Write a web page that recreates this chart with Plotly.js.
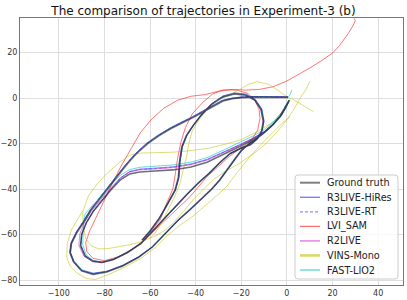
<!DOCTYPE html>
<html>
<head>
<meta charset="utf-8">
<script src="https://cdn.plot.ly/plotly-3.0.1.min.js"></script>
<style>html,body{margin:0;padding:0;background:#fff;}#chart{width:407px;height:300px;}</style>
</head>
<body>
<div id="chart"></div>
<script>
// ---- Data ----
var seriesNames = ["Ground truth","R3LIVE-HiRes","R3LIVE-RT","LVI_SAM","R2LIVE","VINS-Mono","FAST-LIO2"];
var xTicks = [-100,-80,-60,-40,-20,0,20,40];
var yTicks = [-80,-60,-40,-20,0,20];

// Ground truth
var gtLap1X = [0.5,-5,-10,-15,-20,-24,-28,-32,-36,-41,-46,-51,-56,-61,-66,-70,-74,-78,-82,-86,-89,-92,-94.5,-95,-93.5,-90,-85,-79,-72,-65,-59,-53,-47.5,-42.5,-37,-33,-29.5,-26,-23,-20,-16,-11,-6.5,-3,-0.5,1];
var gtLap1Y = [0.3,0.4,0.5,0.4,0.2,-0.3,-1.3,-3.5,-6,-8.5,-11,-13.5,-16.5,-20,-24.5,-29,-34,-39,-44,-49.5,-54.5,-59,-64,-68,-72,-76,-77.5,-76.5,-73.8,-70,-65.5,-59,-53.5,-49,-44,-40,-36,-31,-27,-23,-19.5,-16,-12,-8,-4,-1];
var gtLap2X = [0,-2.5,-6,-10,-15,-20.5,-27.5,-35,-42,-50,-58,-64.5,-69,-73,-77,-81,-85,-88,-90,-90.5,-88.5,-85,-81,-76,-70,-64,-58.5,-54,-49,-44,-39,-34,-29.5,-25,-20,-16,-13,-11,-10.3,-11.3,-14,-18,-23,-28,-33,-37.5,-41,-44,-46,-47,-47.5,-49,-52,-56,-60,-63.5];
var gtLap2Y = [-3,-7.6,-11.6,-15.2,-18.3,-21.2,-24.5,-28.2,-30.3,-31.6,-32.1,-32.5,-33.4,-36,-40.2,-45,-50,-55,-60,-65,-69.5,-71.8,-72.3,-71,-68,-64,-58,-53.5,-48,-42.5,-37.5,-33,-28.5,-24.5,-22,-20.5,-18,-14.5,-10.2,-5,-1,1.2,1.8,0.5,-2.8,-7.5,-12,-16.5,-21.5,-28,-35,-40.5,-46,-53,-58.5,-62.5];

// R3LIVE-HiRes
var hrLap1X = [0.5,-5,-10,-15,-20,-24,-28.5,-32.5,-36.5,-41.5,-46.5,-51.5,-56.5,-61.5,-66.3,-70.3,-74.3,-78.3,-82.3,-86.3,-89.3,-92.3,-94.6,-95,-93.3,-89.8,-84.8,-78.8,-71.8,-64.8,-58.8,-52.8,-47.3,-42.3,-36.8,-32.8,-29.3,-25.8,-22.8,-19.8,-15.8,-10.8,-6.3,-2.8,-0.3,1];
var hrLap1Y = [0.6,0.7,0.8,0.7,0.5,0,-1,-3.2,-5.7,-8.2,-10.7,-13.3,-16.3,-19.8,-24.3,-28.8,-33.8,-38.8,-43.8,-49.3,-54.3,-58.8,-63.8,-67.8,-71.8,-75.6,-77,-76.1,-73.5,-69.8,-65.4,-59,-53.6,-49.2,-44.2,-40.2,-36.2,-31.2,-27.2,-23.2,-19.7,-16.2,-12.2,-8.2,-4.2,-1.1];
var hrLap2X = [0.2,-2.3,-5.8,-9.8,-14.8,-20.3,-27.3,-34.8,-41.8,-49.8,-57.8,-64.3,-68.8,-72.8,-76.8,-80.8,-84.8,-87.8,-89.8,-90.3,-88.3,-84.8,-80.8,-75.8,-69.8,-63.8,-58.3,-53.8,-48.8,-43.8,-38.8,-33.8,-29.3,-24.8,-19.8,-15.8,-12.8,-10.8,-10,-11,-13.8,-17.8,-22.8,-27.8,-32.8,-37.3,-40.8,-43.8,-45.8,-46.8,-47.3,-48.8,-51.8,-55.8,-59.8,-63.3];
var hrLap2Y = [-2.8,-7.2,-11.2,-14.7,-17.6,-20.3,-23.4,-26.9,-28.9,-30.2,-30.8,-31.2,-32.2,-35,-39.6,-44.6,-49.6,-54.6,-59.6,-64.7,-69.3,-71.6,-72.1,-70.8,-67.8,-63.8,-57.9,-53.4,-47.9,-42.4,-37.4,-32.9,-28.4,-24.4,-21.9,-20.3,-17.8,-14.3,-10,-4.7,-0.6,1.7,2.3,1,-2.4,-7.2,-11.8,-16.3,-21.3,-27.8,-34.8,-40.4,-45.9,-52.9,-58.4,-62.4];

// R3LIVE-RT
var rtLap1X = [0.5,-5,-10,-15,-20,-24.1,-28.3,-32.3,-36.3,-41.3,-46.3,-51.3,-56.3,-61.3,-66.2,-70.2,-74.2,-78.2,-82.2,-86.2,-89.2,-92.2,-94.6,-95.1,-93.5,-89.9,-84.9,-78.9,-71.9,-64.9,-58.9,-52.9,-47.4,-42.4,-36.9,-32.9,-29.4,-25.9,-22.9,-19.9,-15.9,-10.9,-6.4,-2.9,-0.4,1];
var rtLap1Y = [0.5,0.6,0.7,0.6,0.4,-0.1,-1.1,-3.3,-5.8,-8.3,-10.8,-13.4,-16.4,-19.9,-24.4,-28.9,-33.9,-38.9,-43.9,-49.4,-54.4,-58.9,-63.9,-67.9,-71.9,-75.8,-77.3,-76.3,-73.6,-69.9,-65.4,-59,-53.5,-49.1,-44.1,-40.1,-36.1,-31.1,-27.1,-23.1,-19.6,-16.1,-12.1,-8.1,-4.1,-1];
var rtLap2X = [0.1,-2.4,-5.9,-9.9,-14.9,-20.4,-27.4,-34.9,-41.9,-49.9,-57.9,-64.4,-68.9,-72.9,-76.9,-80.9,-84.9,-87.9,-89.9,-90.4,-88.4,-84.9,-80.9,-75.9,-69.9,-63.9,-58.4,-53.9,-48.9,-43.9,-38.9,-33.9,-29.4,-24.9,-19.9,-15.9,-12.9,-10.9,-10.1,-11.1,-13.9,-17.9,-22.9,-27.9,-32.9,-37.4,-40.9,-43.9,-45.9,-46.9,-47.4,-48.9,-51.9,-55.9,-59.9,-63.4];
var rtLap2Y = [-2.9,-7.3,-11.3,-14.8,-17.7,-20.5,-23.6,-27.1,-29.1,-30.4,-31,-31.4,-32.4,-35.2,-39.8,-44.8,-49.8,-54.8,-59.8,-64.8,-69.4,-71.7,-72.2,-70.9,-67.9,-63.9,-57.9,-53.4,-47.9,-42.4,-37.4,-32.9,-28.4,-24.4,-21.9,-20.4,-17.9,-14.4,-10.1,-4.8,-0.7,1.6,2.2,0.9,-2.5,-7.3,-11.9,-16.4,-21.4,-27.9,-34.9,-40.4,-45.9,-52.9,-58.4,-62.4];

// LVI_SAM
var lviX = [-60,-55.5,-52.6,-50,-49,-48,-46.5,-44.5,-41.5,-37,-32.5,-28,-22,-17,-14,-12.2,-11.8,-12.8,-15.5,-20,-25,-30,-35,-42.4,-49.7,-56,-62,-68,-74,-80,-85,-87.7,-88.2,-86.5,-83.5,-80.5,-77,-73,-68.5,-64.3,-59.5,-54,-48,-42,-36,-30,-24,-18,-12,-6,0,5,10,15,20,23,25,27,28.8,30,29.5];
var lviY = [-59,-53.5,-46,-40,-34,-27,-19.5,-13,-7,-2,1.8,3.6,3.5,2,-1,-5,-9,-14,-18.5,-22,-25.5,-30,-34.5,-43.3,-50.4,-56.5,-62,-66.5,-69.8,-71.5,-70.5,-67.5,-63.5,-58.5,-52,-45.5,-38.5,-30.5,-22.5,-15.3,-9.5,-4.5,-1,0.8,1.5,3,3.8,3.5,3.8,5,7.5,10.3,13.2,16.3,19.8,23,25.5,28.5,31.5,34,35];

// R2LIVE
var r2Lap1X = [0.5,-5,-10,-15,-20,-24.2,-28.4,-32.4,-36.4,-41.4,-46.4,-51.4,-56.4,-61.4,-66.4,-70.4,-74.4,-78.4,-82.4,-86.4,-89.4,-92.4,-94.8,-95.3,-93.7,-90.2,-85.2,-79.2,-72.2,-65.2,-59.2,-53.2,-47.7,-42.7,-37.2,-33.2,-29.7,-26.2,-23.2,-20.2,-16.2,-11.2,-6.7,-3.2,-0.7,0.8];
var r2Lap1Y = [0.5,0.6,0.7,0.6,0.4,-0.1,-1.1,-3.3,-5.8,-8.3,-10.8,-13.4,-16.4,-19.9,-24.4,-28.9,-33.9,-38.9,-43.9,-49.4,-54.4,-58.9,-63.9,-67.9,-71.9,-75.8,-77.2,-76.3,-73.6,-69.9,-65.5,-59.1,-53.7,-49.3,-44.3,-40.3,-36.3,-31.3,-27.3,-23.3,-19.8,-16.3,-12.3,-8.3,-4.3,-1.2];
var r2Lap2X = [0,-2.5,-6,-10,-15,-20.5,-27.5,-35,-42,-50,-58,-64.5,-69.2,-73.3,-77.5,-81.7,-85.8,-88.8,-90.8,-91.2,-89,-85.3,-81.2,-76.2,-70.2,-64.2,-58.7,-54.2,-49.2,-44.2,-39.2,-34.2,-29.7,-25.2,-20.2,-16.2,-13.2,-11.2,-10.5,-11.5,-14.2,-18.2,-23.2,-28.2,-33.2,-37.7,-41.2,-44.2,-46.2,-47.2,-47.7,-49.2,-52.2,-56.2,-60.2,-63.7];
var r2Lap2Y = [-3,-7.4,-11.4,-14.9,-17.8,-20.6,-23.8,-27.3,-29.3,-30.6,-31.2,-31.6,-32.6,-35.3,-39.8,-44.8,-49.8,-54.8,-59.8,-64.8,-69.5,-71.9,-72.4,-71.1,-68.1,-64.1,-58.1,-53.6,-48.1,-42.6,-37.6,-33.1,-28.6,-24.6,-22.1,-20.5,-18,-14.5,-10.2,-4.9,-0.8,1.5,2.1,0.8,-2.6,-7.4,-11.9,-16.4,-21.4,-27.9,-34.9,-40.5,-46,-53,-58.5,-62.5];

// VINS-Mono (three pieces, separated by gaps)
var vinsX = [11.7,7,2.9,0,-4,-8,-13,-17,-21,-26,-31,-35,-38.5,-41.5,-43,-44,-45.5,-47,-49.5,-52,-55,-57.5,-60.5,-64.3,-69,-74.5,-78.5,-82.6,-86,-88.3,-89.3,-89.5,-87,-83,-78.5,-73,-68.5,-64,-58,-50,-43,-35,-27,-20,-13,-6,-2,0,1.5,
  null,
  -89.5,-92,-94.5,-96.3,-96.5,-95,-92,-88,-84,-78,-71,-64,-57.5,-52.5,-47,-41,-35,-30,-26.3,-22,-16,-11,-6,-2,1.5,
  null,
  -60.5,-57,-53,-49.7,-45,-41,-36.5,-32.2,-26.5,-20.5,-14,-8.8,-4,0,3,5.8,8.5,10.2];
var vinsY = [-6,-3.3,-0.7,0.5,3.5,6,7.2,6,3.6,1,-1,-5,-9.5,-14.5,-20,-26,-32,-38,-44,-49,-55,-59,-61.8,-63.3,-64.5,-65.5,-66.2,-66.3,-64.8,-61.5,-56,-50,-43,-37.5,-32.8,-28,-25,-24.2,-24,-23.8,-23.2,-22.2,-20.3,-18.3,-14.8,-10.5,-6,-3,-1,
  null,
  -49.5,-53.5,-58,-64,-70,-74,-77,-79.3,-79.8,-77.5,-74.3,-70.5,-65.5,-60.5,-56,-51.8,-46.8,-42.3,-38.8,-33,-25.6,-20,-15,-11,-8,
  null,
  -61.8,-60.3,-57.8,-54.8,-49.5,-44.6,-40,-35.8,-32,-28.5,-24,-19.7,-14.5,-9.6,-5,0,4,7.5];

// FAST-LIO2
var flLap1X = [2.2,1.4,0.5,-5,-10,-15,-20,-24,-28.2,-32.2,-36.2,-41.2,-46.2,-51.2,-56.2,-61.2,-66.2,-70.2,-74.2,-78.2,-82.2,-86,-89,-92,-94.3,-94.8,-93.3,-89.8,-84.8,-78.8,-71.8,-64.8,-58.8,-52.8,-47.3,-42.3,-36.8,-32.8,-29.3,-25.8,-22.8,-19.8,-15.8,-10.8,-6.3,-2.8,-0.3,1.2];
var flLap1Y = [3.6,1.5,0.3,0.5,0.6,0.5,0.3,-0.2,-1.1,-3.3,-5.8,-8.3,-10.8,-13.3,-16.3,-19.8,-24.3,-28.8,-33.8,-38.8,-43.8,-49.3,-54.3,-58.8,-63.8,-67.8,-71.8,-75.8,-77.2,-76.3,-73.6,-69.8,-65.3,-58.8,-53.3,-48.8,-43.8,-39.8,-35.8,-30.8,-26.8,-22.8,-19.3,-15.8,-11.8,-7.8,-3.8,-0.8];
var flLap2X = [0.3,-2.2,-5.7,-9.7,-14.7,-20.2,-27.2,-34.7,-41.7,-49.7,-57.7,-64.2,-68.8,-72.8,-77,-81,-85.5,-88.5,-89.2,-89.3,-89.5,-88,-84.8,-80.8,-75.8,-69.8,-63.8,-58.3,-53.8,-48.8,-43.8,-38.8,-33.8,-29.3,-24.8,-19.8,-15.8,-12.8,-10.8,-10.1,-11.1,-13.8,-17.8,-22.8,-27.8,-32.8,-37.3,-40.8,-43.8,-45.8,-46.8,-47.3,-48.8,-51.8,-55.8,-59.8,-63.3];
var flLap2Y = [-1.8,-6.2,-10.2,-13.7,-16.6,-19.4,-22.6,-26.1,-28.1,-29.4,-30,-30.4,-31.4,-33.8,-37.8,-42.8,-47.5,-51,-55,-59.5,-64.5,-69,-71.5,-72,-70.7,-67.7,-63.7,-57.8,-53.3,-47.8,-42.3,-37.3,-32.8,-28.3,-24.3,-21.8,-20.2,-17.7,-14.2,-10,-4.8,-0.8,1.5,2.1,0.8,-2.5,-7.3,-11.8,-16.3,-21.3,-27.8,-34.8,-40.3,-45.8,-52.8,-58.3,-62.3];

// ---- Styles ----
var styles = [
  {color:'rgba(20,25,35,0.62)',  width:1.6, dash:'solid',   legColor:'rgba(0,0,0,0.5)',     legW:2},
  {color:'rgba(0,0,255,0.5)',    width:0.9, dash:'solid',   legColor:'rgba(0,0,255,0.6)',   legW:1.2},
  {color:'rgba(70,70,255,0.55)', width:0.9, dash:'3px,2px', legColor:'rgba(70,70,255,0.6)', legW:1.2},
  {color:'rgba(255,0,0,0.6)',    width:0.9, dash:'solid',   legColor:'rgba(255,0,0,0.6)',   legW:1.2},
  {color:'rgba(191,0,191,0.5)',  width:0.9, dash:'solid',   legColor:'rgba(191,0,191,0.6)', legW:1.2},
  {color:'rgba(191,191,0,0.6)',  width:0.9, dash:'solid',   legColor:'rgba(191,191,0,0.6)', legW:2.6},
  {color:'rgba(0,191,191,0.65)', width:0.9, dash:'solid',   legColor:'rgba(0,191,191,0.7)', legW:1.2}
];
var xs = [gtLap1X.concat(gtLap2X), hrLap1X.concat(hrLap2X), rtLap1X.concat(rtLap2X), lviX,
          r2Lap1X.concat(r2Lap2X), vinsX, flLap1X.concat(flLap2X)];
var ys = [gtLap1Y.concat(gtLap2Y), hrLap1Y.concat(hrLap2Y), rtLap1Y.concat(rtLap2Y), lviY,
          r2Lap1Y.concat(r2Lap2Y), vinsY, flLap1Y.concat(flLap2Y)];

// Draw the estimates first and the ground truth last (on top)
var drawOrder = [1, 2, 3, 4, 5, 6, 0];
var data = drawOrder.map(function(i) {
  return {type:'scatter', mode:'lines', name:seriesNames[i], x:xs[i], y:ys[i], connectgaps:false,
          line:{color:styles[i].color, width:styles[i].width, dash:styles[i].dash}, hoverinfo:'skip'};
});

// ---- Legend drawn as shapes + annotations (pixel layout converted to paper units) ----
var W = 407, H = 300, ML = 20, MR = 4, MT = 18, MB = 15;
var PW = W - ML - MR, PH = H - MT - MB;
function px(x) { return (x - ML) / PW; }
function py(y) { return (MT + PH - y) / PH; }
var boxL = 295, boxR = 398, boxT = 175, boxB = 279, rad = 3;
var shapes = [];
var annotations = [];
var boxPath = 'M ' + px(boxL + rad) + ',' + py(boxT) +
  ' L ' + px(boxR - rad) + ',' + py(boxT) +
  ' Q ' + px(boxR) + ',' + py(boxT) + ' ' + px(boxR) + ',' + py(boxT + rad) +
  ' L ' + px(boxR) + ',' + py(boxB - rad) +
  ' Q ' + px(boxR) + ',' + py(boxB) + ' ' + px(boxR - rad) + ',' + py(boxB) +
  ' L ' + px(boxL + rad) + ',' + py(boxB) +
  ' Q ' + px(boxL) + ',' + py(boxB) + ' ' + px(boxL) + ',' + py(boxB - rad) +
  ' L ' + px(boxL) + ',' + py(boxT + rad) +
  ' Q ' + px(boxL) + ',' + py(boxT) + ' ' + px(boxL + rad) + ',' + py(boxT) + ' Z';
shapes.push({type:'path', xref:'paper', yref:'paper', path:boxPath, layer:'above',
             fillcolor:'rgba(255,255,255,0.82)', line:{color:'#cccccc', width:1}});
var fontFam = 'DejaVu Sans, sans-serif';
seriesNames.forEach(function(n, i) {
  var yy = 182.7 + i * 14.55;
  shapes.push({type:'line', xref:'paper', yref:'paper', x0:px(300), x1:px(320), y0:py(yy), y1:py(yy),
               layer:'above', line:{color:styles[i].legColor, width:styles[i].legW, dash:styles[i].dash}});
  annotations.push({xref:'paper', yref:'paper', x:px(326), y:py(yy), xanchor:'left', yanchor:'middle',
                    text:n, showarrow:false, font:{family:fontFam, size:9.7, color:'#222'}, borderpad:0});
});

var layout = {
  width:W, height:H,
  margin:{l:ML, r:MR, t:MT, b:MB, pad:0},
  paper_bgcolor:'#ffffff', plot_bgcolor:'#ffffff',
  font:{family:fontFam, size:8, color:'#333'},
  title:{text:'The comparison of trajectories in Experiment-3 (b)', font:{family:fontFam, size:12, color:'#111'},
         x:0.5, xref:'container', xanchor:'center', y:0.963, yref:'container', yanchor:'middle'},
  xaxis:{range:[-117,50.9], tickvals:xTicks, ticks:'', showgrid:true, gridcolor:'#dedede', gridwidth:1,
         zeroline:false, showline:true, mirror:true, linecolor:'#777', linewidth:1,
         tickfont:{family:fontFam, size:8, color:'#333'}},
  yaxis:{range:[-82.2,35.2], tickvals:yTicks, ticks:'', showgrid:true, gridcolor:'#dedede', gridwidth:1,
         zeroline:false, showline:true, mirror:true, linecolor:'#777', linewidth:1,
         tickfont:{family:fontFam, size:8, color:'#333'}},
  showlegend:false,
  shapes:shapes,
  annotations:annotations
};
Plotly.newPlot('chart', data, layout, {staticPlot:true, displayModeBar:false});
</script>
</body>
</html>
